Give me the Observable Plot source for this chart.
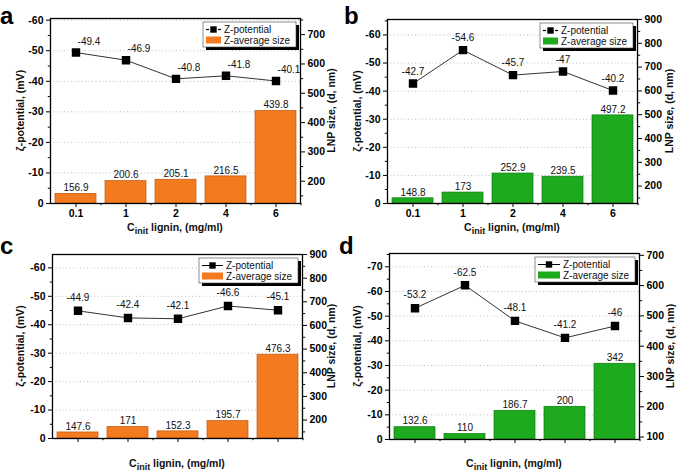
<!DOCTYPE html>
<html><head><meta charset="utf-8">
<script src="https://cdn.jsdelivr.net/npm/d3@7"></script>
<script src="https://cdn.jsdelivr.net/npm/@observablehq/plot@0.6"></script>
<style>
body{margin:0;background:#fff;font-family:"Liberation Sans",Arial,sans-serif;}
#fig{position:relative;width:677px;height:472px;overflow:hidden;background:#fff;}
.panel{position:absolute;}
</style></head><body><div id="fig"></div>
<script>
// ---- data ----
const categories = ["0.1", "1", "2", "4", "6"];

const zetaA = [-49.4, -46.9, -40.8, -41.8, -40.1];
const sizeA = [156.9, 200.6, 205.1, 216.5, 439.8];

const zetaB = [-42.7, -54.6, -45.7, -47, -40.2];
const sizeB = [148.8, 173, 252.9, 239.5, 497.2];

const zetaC = [-44.9, -42.4, -42.1, -46.6, -45.1];
const sizeC = [147.6, 171, 152.3, 195.7, 476.3];

const zetaD = [-53.2, -62.5, -48.1, -41.2, -46];
const sizeD = [132.6, 110, 186.7, 200, 342];

const zetaTicks60 = [0, -10, -20, -30, -40, -50, -60];
const zetaTicks70 = [0, -10, -20, -30, -40, -50, -60, -70];
const zetaMinor60 = [-5, -15, -25, -35, -45, -55];
const zetaMinor65 = [-5, -15, -25, -35, -45, -55, -65];
const zetaMinor75 = [-5, -15, -25, -35, -45, -55, -65, -75];
const sizeTicksA = [200, 300, 400, 500, 600, 700];
const sizeMinorA = [150, 250, 350, 450, 550, 650, 750];
const sizeTicks900 = [200, 300, 400, 500, 600, 700, 800, 900];
const sizeMinor900 = [150, 250, 350, 450, 550, 650, 750, 850];
const sizeTicksD = [100, 200, 300, 400, 500, 600, 700];
const sizeMinorD = [150, 250, 350, 450, 550, 650];

const seriesNames = ["Z-potential", "Z-average size"];
const yTitle = "ζ-potential, (mV)";
const y2Title = "LNP size, (d, nm)";

const ORANGE = "#f47a1f", ORANGE_EDGE = "#c25a10";
const GREEN = "#1eaa1e", GREEN_EDGE = "#0e7a0e";
const FONT = "'Liberation Sans', Arial, Helvetica, sans-serif";

function makePanel(cfg) {
  const {letter, lx, ly, left, top, width, height, ml, mr, mt, mb,
         zeta, size, zTop, sDom, zTicks, zMinor, sTicks, sMinor,
         fill, edge, showX, zdx, zdy, symW, dashed, y2x} = cfg;
  const toZ = s => (s - sDom[0]) / (sDom[1] - sDom[0]) * zTop;
  const fromZ = z => z / zTop * (sDom[1] - sDom[0]) + sDom[0];
  const data = categories.map((c, i) => ({cat: c, zeta: zeta[i], size: size[i]}));
  const step = (width - ml - mr) / categories.length;

  const svg = Plot.plot({
    width, height,
    marginLeft: ml, marginRight: mr, marginTop: mt, marginBottom: mb,
    style: {fontFamily: FONT, fontSize: "10px", background: "transparent", overflow: "visible", color: "#000"},
    x: {type: "band", domain: categories, paddingInner: 0.18, paddingOuter: 0.09, axis: null},
    y: {domain: [0, zTop], axis: null},
    marks: [
      Plot.gridY(zTicks.filter(d => d !== 0), {stroke: "#9a9a9a", strokeOpacity: 0.8, strokeDasharray: "1,2.5", strokeWidth: 0.8}),
      Plot.barY(data, {x: "cat", y: d => toZ(d.size), fill, stroke: edge, strokeWidth: 0.7}),
      Plot.text(data, {x: "cat", y: d => toZ(d.size), text: d => String(d.size), dy: -6, fontSize: 10, fill: "#111"}),
      Plot.line(data, {x: "cat", y: "zeta", stroke: "#333", strokeWidth: 1}),
      Plot.dot(data, {x: "cat", y: "zeta", symbol: "square", fill: "#000", stroke: "#000", r: 3.9}),
      Plot.text(data, {x: "cat", y: "zeta", text: d => String(d.zeta), dx: zdx, dy: zdy, fontSize: 10, fill: "#111"}),
      Plot.axisY({ticks: zTicks, tickFormat: d => String(d), tickSize: 4, tickPadding: 3, fontWeight: "bold", fontSize: 10.5, label: null}),
      Plot.axisY({ticks: zMinor, tickFormat: () => "", tickSize: 2.2, label: null}),
      Plot.axisY({anchor: "right", ticks: sTicks.map(toZ), tickFormat: z => String(Math.round(fromZ(z))), tickSize: 4, tickPadding: 3, fontWeight: "bold", fontSize: 10.5, label: null}),
      Plot.axisY({anchor: "right", ticks: sMinor.map(toZ), tickFormat: () => "", tickSize: 2.2, label: null}),
      Plot.axisX({tickSize: 4, tickPadding: 2, tickFormat: showX ? d => d : () => "", fontWeight: "bold", fontSize: 10.5, label: null}),
      Plot.axisX({tickSize: 2.2, tickFormat: () => "", dx: step / 2, label: null}),
      Plot.frame({stroke: "#000", strokeWidth: 1.3})
    ]
  });

  const s = d3.select(svg);
  const fx0 = ml, fx1 = width - mr, fy0 = mt, fy1 = height - mb;
  const fyc = (fy0 + fy1) / 2;

  // panel letter
  s.append("text").attr("x", lx).attr("y", ly).text(letter).attr("text-anchor", "start")
    .attr("font-family", FONT).attr("font-weight", "bold").attr("font-size", 24).attr("fill", "#000");

  // left title
  s.append("text").attr("transform", `translate(24,${fyc}) rotate(-90)`)
    .attr("text-anchor", "middle").attr("font-family", FONT).attr("font-weight", "bold")
    .attr("font-size", 10.5).attr("fill", "#111").text(yTitle);
  // right title
  s.append("text").attr("transform", `translate(${y2x},${fyc}) rotate(-90)`)
    .attr("text-anchor", "middle").attr("font-family", FONT).attr("font-weight", "bold")
    .attr("font-size", 10.5).attr("fill", "#111").text(y2Title);
  // x title
  const xt = s.append("text").attr("x", (fx0 + fx1) / 2).attr("y", height - 5)
    .attr("text-anchor", "middle").attr("font-family", FONT).attr("font-weight", "bold")
    .attr("font-size", 10.5).attr("fill", "#111");
  xt.append("tspan").text("C");
  xt.append("tspan").attr("dy", 3).attr("font-size", 9).text("init");
  xt.append("tspan").attr("dy", -3).text(" lignin, (mg/ml)");

  // legend
  const bw = symW + 78, bh = 25;
  const bx = fx1 - bw - 4, by = fy0 + 4;
  const g = s.append("g").attr("text-anchor", "start");
  g.append("rect").attr("x", bx + 3).attr("y", by + 3).attr("width", bw).attr("height", bh).attr("fill", "#000");
  g.append("rect").attr("x", bx).attr("y", by).attr("width", bw).attr("height", bh)
    .attr("fill", "#fff").attr("stroke", "#444").attr("stroke-width", 0.6);
  const r1 = by + 7.5, r2 = by + 18;
  const sx0 = bx + 3, sx1 = bx + 3 + symW, smid = (sx0 + sx1) / 2;
  if (dashed) {
    g.append("line").attr("x1", sx0).attr("x2", sx0 + 3).attr("y1", r1).attr("y2", r1).attr("stroke", "#000").attr("stroke-width", 1.2);
    g.append("line").attr("x1", sx1 - 3).attr("x2", sx1).attr("y1", r1).attr("y2", r1).attr("stroke", "#000").attr("stroke-width", 1.2);
  } else {
    g.append("line").attr("x1", sx0).attr("x2", sx1).attr("y1", r1).attr("y2", r1).attr("stroke", "#000").attr("stroke-width", 1);
  }
  g.append("rect").attr("x", smid - 3.2).attr("y", r1 - 3.2).attr("width", 6.4).attr("height", 6.4).attr("fill", "#000");
  g.append("rect").attr("x", sx0).attr("y", r2 - 3.5).attr("width", symW).attr("height", 7).attr("fill", fill);
  g.append("text").attr("x", sx1 + 3).attr("y", r1).attr("dy", "0.35em").attr("font-family", FONT)
    .attr("text-anchor", "start").attr("font-size", 10).attr("fill", "#111").text(seriesNames[0]);
  g.append("text").attr("x", sx1 + 3).attr("y", r2).attr("dy", "0.35em").attr("font-family", FONT)
    .attr("text-anchor", "start").attr("font-size", 10).attr("fill", "#111").text(seriesNames[1]);

  const div = document.createElement("div");
  div.className = "panel";
  div.style.left = left + "px";
  div.style.top = top + "px";
  div.appendChild(svg);
  document.getElementById("fig").appendChild(div);
}

makePanel({letter: "a", lx: 0, ly: 23.5, left: 0, top: 0, width: 338, height: 236, ml: 50, mr: 38, mt: 18, mb: 33,
  zeta: zetaA, size: sizeA, zTop: -60.55, sDom: [124, 755], zTicks: zetaTicks60, zMinor: zetaMinor60,
  sTicks: sizeTicksA, sMinor: sizeMinorA, fill: ORANGE, edge: ORANGE_EDGE, showX: true, zdx: 13, zdy: -11,
  symW: 15, dashed: true, y2x: 335});

makePanel({letter: "b", lx: 7, ly: 23.5, left: 337, top: 0, width: 340, height: 236, ml: 50, mr: 40, mt: 19, mb: 33,
  zeta: zetaB, size: sizeB, zTop: -65.5, sDom: [127, 900], zTicks: zetaTicks60, zMinor: zetaMinor65,
  sTicks: sizeTicks900, sMinor: sizeMinor900, fill: GREEN, edge: GREEN_EDGE, showX: true, zdx: 0, zdy: -12,
  symW: 15, dashed: true, y2x: 336});

makePanel({letter: "c", lx: 0, ly: 18, left: 0, top: 236, width: 338, height: 236, ml: 52, mr: 36, mt: 18, mb: 34,
  zeta: zetaC, size: sizeC, zTop: -64.7, sDom: [122, 900], zTicks: zetaTicks60, zMinor: zetaMinor60,
  sTicks: sizeTicks900, sMinor: sizeMinor900, fill: ORANGE, edge: ORANGE_EDGE, showX: false, zdx: 0, zdy: -13,
  symW: 21, dashed: false, y2x: 335});

makePanel({letter: "d", lx: 2, ly: 18, left: 337, top: 236, width: 340, height: 236, ml: 52, mr: 38, mt: 17, mb: 33,
  zeta: zetaD, size: sizeD, zTop: -75.4, sDom: [92, 706], zTicks: zetaTicks70, zMinor: zetaMinor75,
  sTicks: sizeTicksD, sMinor: sizeMinorD, fill: GREEN, edge: GREEN_EDGE, showX: false, zdx: 0, zdy: -13,
  symW: 22, dashed: false, y2x: 337});
</script>
</body></html>
